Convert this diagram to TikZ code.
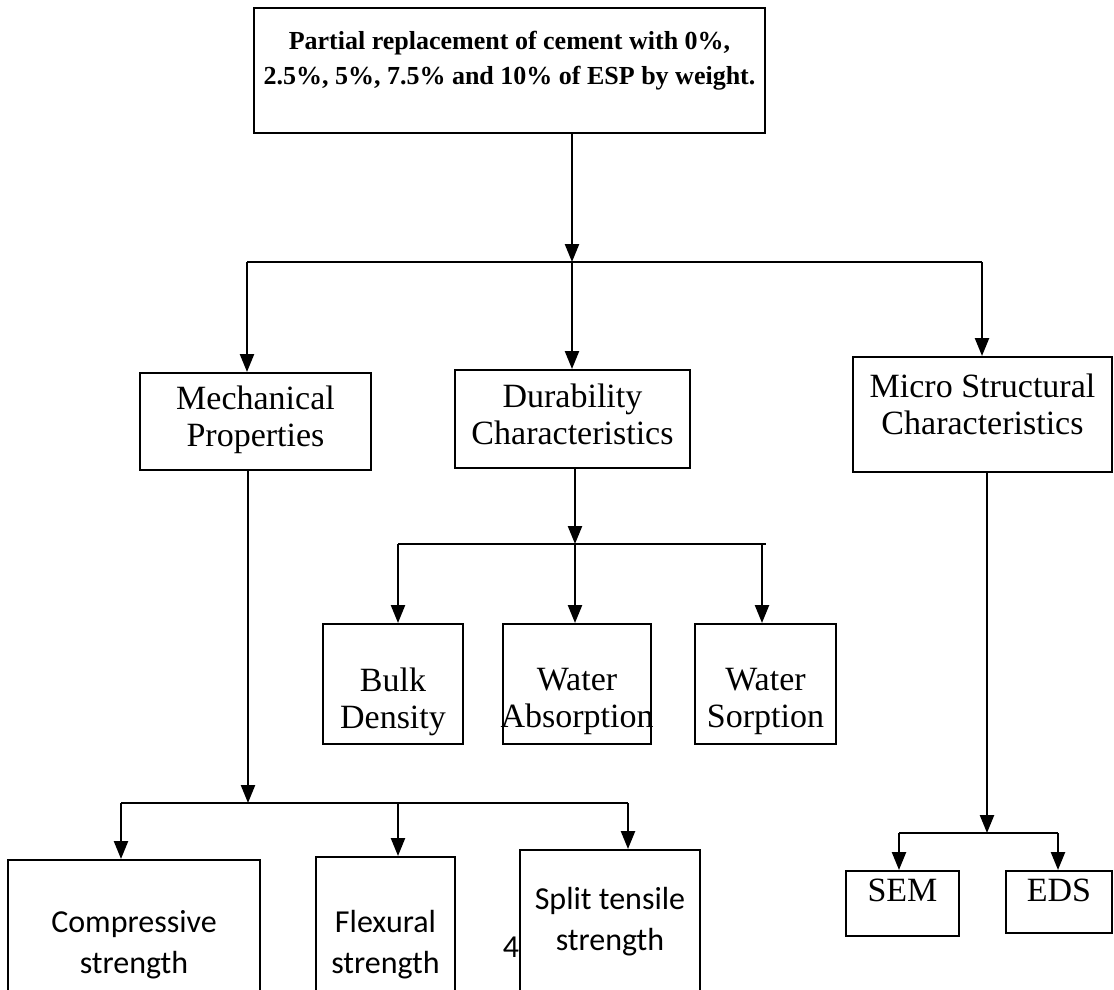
\documentclass[tikz,border=0pt]{standalone}
\usepackage{fontspec}
\setmainfont{Liberation Serif}
\newfontfamily\calibrifont{Carlito}
\usetikzlibrary{arrows.meta,positioning}

\tikzset{
  box/.style={draw, line width=2pt, inner sep=0pt},
  ttl/.style={align=center, inner sep=0pt, font=\bfseries\fontsize{26}{35}\selectfont},
  lbl/.style={align=center, inner sep=0pt, font=\fontsize{34}{37}\selectfont},
  lblc/.style={align=center, inner sep=0pt, font=\calibrifont\fontsize{32}{41}\selectfont},
  arr/.style={line width=2.4pt, -{Triangle[length=18pt,width=14pt]}},
  bus/.style={line width=1.9pt},
}

\begin{document}
\begin{tikzpicture}[x=1pt,y=-1pt]
\useasboundingbox (0,0) rectangle (1114,990);

\node[box, minimum width=511pt, minimum height=125pt] (top) at (509.5,70.5) {};
\node[ttl, below=24pt of top.north] (toptxt) {Partial replacement of cement with 0\%,\\2.5\%, 5\%, 7.5\% and 10\% of ESP by weight.};

\node[box, minimum width=231pt, minimum height=97pt] (mech) at (255.5,421.5) {};
\node[lbl, below=14pt of mech.north] (mechtxt) {Mechanical\\Properties};
\node[box, minimum width=235pt, minimum height=98pt] (dur) at (572.5,419) {};
\node[lbl, below=15pt of dur.north] (durtxt) {Durability\\Characteristics};
\node[box, minimum width=259pt, minimum height=115pt] (micro) at (982.5,414.5) {};
\node[lbl, below=18pt of micro.north] (microtxt) {Micro Structural\\Characteristics};

\node[box, minimum width=140pt, minimum height=120pt] (bulk) at (393,684) {};
\node[lbl, below=45pt of bulk.north] (bulktxt) {Bulk\\Density};
\node[box, minimum width=148pt, minimum height=120pt] (wabs) at (577,684) {};
\node[lbl, below=45pt of wabs.north] (wabstxt) {Water\\Absorption};
\node[box, minimum width=141pt, minimum height=120pt] (wsorp) at (765.5,684) {};
\node[lbl, below=45pt of wsorp.north] (wsorptxt) {Water\\Sorption};

\node[box, minimum width=252pt, minimum height=140pt] (comp) at (134,930) {};
\node[lblc, below=51pt of comp.north] (comptxt) {Compressive\\strength};
\node[box, minimum width=139pt, minimum height=143pt] (flex) at (385.5,928.5) {};
\node[lblc, below=54pt of flex.north] (flextxt) {Flexural\\strength};
\node[box, minimum width=180pt, minimum height=150pt] (split) at (610,925) {};
\node[lblc, below=38pt of split.north] (splittxt) {Split tensile\\strength};
\node[lblc, anchor=base] (pgnum) at (511,957) {4};

\node[box, minimum width=113pt, minimum height=65pt] (sem) at (902.5,903.5) {};
\node[lbl, below=9pt of sem.north] (semtxt) {SEM};
\node[box, minimum width=106pt, minimum height=62pt] (eds) at (1059,902) {};
\node[lbl, below=9pt of eds.north] (edstxt) {EDS};

\coordinate (b1) at (572,262);
\coordinate (b1w) at (247,262);
\coordinate (b1e) at (982,262);
\draw[arr] (top.south -| b1) -- (b1);
\draw[bus] (b1w) -- (b1e);
\draw[arr] (b1w) -- (b1w |- mech.north);
\draw[arr] (b1) -- (b1 |- dur.north);
\draw[arr] (b1e) -- (b1e |- micro.north);

\coordinate (b2) at (575,544);
\coordinate (b2w) at (398,544);
\coordinate (b2e) at (766,544);
\coordinate (b2s) at (762,544);
\draw[arr] (dur.south -| b2) -- (b2);
\draw[bus] (b2w) -- (b2e);
\draw[arr] (b2w) -- (b2w |- bulk.north);
\draw[arr] (b2) -- (b2 |- wabs.north);
\draw[arr] (b2s) -- (b2s |- wsorp.north);

\coordinate (b3) at (248,803);
\coordinate (b3w) at (121,803);
\coordinate (b3f) at (398,803);
\coordinate (b3e) at (628,803);
\draw[arr] (mech.south -| b3) -- (b3);
\draw[bus] (b3w) -- (b3e);
\draw[arr] (b3w) -- (b3w |- comp.north);
\draw[arr] (b3f) -- (b3f |- flex.north);
\draw[arr] (b3e) -- (b3e |- split.north);

\coordinate (b4) at (987,833);
\coordinate (b4w) at (899,833);
\coordinate (b4e) at (1058,833);
\draw[arr] (micro.south -| b4) -- (b4);
\draw[bus] (b4w) -- (b4e);
\draw[arr] (b4w) -- (b4w |- sem.north);
\draw[arr] (b4e) -- (b4e |- eds.north);
\end{tikzpicture}
\end{document}
